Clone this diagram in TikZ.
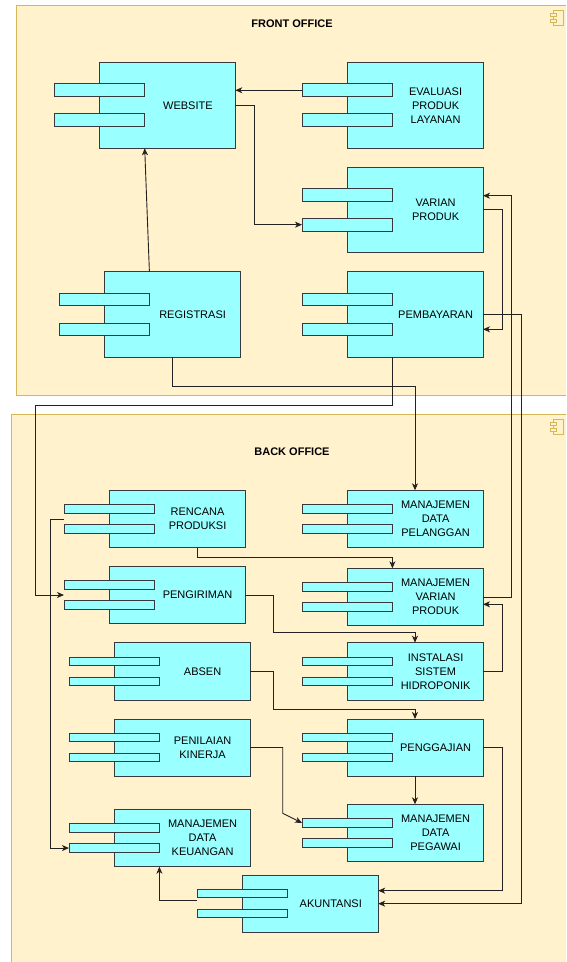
\documentclass[tikz,border=0pt]{standalone}
\usepackage{fontspec}
\setmainfont{Liberation Sans}
\usetikzlibrary{arrows.meta}
\definecolor{cont}{HTML}{FFF2CC}
\definecolor{contline}{HTML}{D6B656}
\definecolor{compfill}{HTML}{99FFFF}
\definecolor{compline}{HTML}{36393D}
\definecolor{wire}{HTML}{222222}
\tikzset{
 container/.style={fill=cont, draw=contline, line width=1pt},
 compbox/.style={draw=compline, fill=compfill, line width=1pt, minimum width=136pt, inner sep=0pt, outer sep=0pt, anchor=north west},
 portbox/.style={draw=compline, fill=compfill, line width=1pt, minimum width=90.6pt, inner sep=0pt, outer sep=0pt, anchor=north west},
 comptext/.style={font=\fontsize{11}{14}\selectfont, align=center, inner sep=0pt},
 titletext/.style={font=\fontsize{11}{14}\selectfont\bfseries, inner sep=0pt},
 wirearrow/.style={draw=wire, line width=0.9pt, -{Stealth[length=7pt,width=6pt,inset=2pt]}},
 iconpart/.style={draw=contline, fill=cont, line width=0.8pt},
}
\newcommand\mycomp[5]{%
 \node[compbox, minimum height={#4pt}] (#1) at (#2,#3) {};
 \node[portbox, minimum height={0.15*#4pt}] (#1p1) at ({#2-45},{#3+0.25*#4}) {};
 \node[portbox, minimum height={0.15*#4pt}] (#1p2) at ({#2-45},{#3+0.6*#4}) {};
 \node[comptext] (#1t) at ({#2+88.6},{#3+0.5*#4}) {#5};
}
\begin{document}
\begin{tikzpicture}[x=1pt,y=-1pt]
\useasboundingbox (0,0) rectangle (566,962);
\clip (0,0) rectangle (566,962);
% containers
\draw[container] (16.2,5.4) rectangle (575,395);
\draw[container] (11.6,414.3) rectangle (575,975);
\node[titletext] (fronttitle) at (292,24) {FRONT OFFICE};
\node[titletext] (backtitle) at (292,451.7) {BACK OFFICE};
\foreach \yy in {10,419} {
 \draw[iconpart] (553,\yy) rectangle (563,{\yy+15});
 \draw[iconpart] (550,{\yy+3}) rectangle (556,{\yy+6});
 \draw[iconpart] (550,{\yy+9}) rectangle (556,{\yy+12});
}
% components
\mycomp{web}{99.3}{62.3}{86}{WEBSITE}
\mycomp{eval}{347}{62.3}{86}{EVALUASI\\PRODUK\\LAYANAN}
\mycomp{var}{347}{167.3}{85}{VARIAN\\PRODUK}
\mycomp{reg}{104}{271.7}{85.6}{REGISTRASI}
\mycomp{pem}{347}{271.7}{85.6}{PEMBAYARAN}
\mycomp{ren}{109}{490.3}{57.4}{RENCANA\\PRODUKSI}
\mycomp{mdp}{347}{490.3}{57.4}{MANAJEMEN\\DATA\\PELANGGAN}
\mycomp{pgr}{109}{566.7}{56.6}{PENGIRIMAN}
\mycomp{mvp}{347}{568.3}{57.4}{MANAJEMEN\\VARIAN\\PRODUK}
\mycomp{abs}{114}{642.7}{57.3}{ABSEN}
\mycomp{ins}{347}{642.7}{57.3}{INSTALASI\\SISTEM\\HIDROPONIK}
\mycomp{pen}{114}{719}{57}{PENILAIAN\\KINERJA}
\mycomp{gaj}{347}{719}{57}{PENGGAJIAN}
\mycomp{mdk}{114}{809.3}{57.4}{MANAJEMEN\\DATA\\KEUANGAN}
\mycomp{peg}{347}{804.3}{57.4}{MANAJEMEN\\DATA\\PEGAWAI}
\mycomp{aku}{242.2}{875}{57.3}{AKUNTANSI}
% connectors
\coordinate (k5) at (35,405);
\coordinate (k11) at (273.3,632.7);
\coordinate (k13) at (273.3,709.3);
\coordinate (k14) at (282.7,813.3);
\draw[wirearrow] (evalp1.west) -- (evalp1.west -| web.east);
\draw[wirearrow] (web.east) -- ++(19.1,0) |- (varp2.west);
\draw[wirearrow] ([xshift=-22.6pt]reg.north) -- ([xshift=-22.6pt]web.south);
\draw[wirearrow] (reg.south) -- ++(0,28.7) -| (mdp.north);
\draw[wirearrow] ([xshift=-22.6pt]pem.south) |- (k5) |- (pgrp1.west |- pgr.west);
\draw[wirearrow] (pem.east) -- ++(38.3,0) |- (aku.east);
\draw[wirearrow] (var.east) -- ++(19.1,0) |- ([yshift=-14.8pt]pem.east);
\draw[wirearrow] (mvp.east) -- ++(28.9,0) |- ([yshift=14.1pt]var.east);
\draw[wirearrow] ([xshift=20pt]ren.south) -- ++(0,9.6) -| ([xshift=-22.6pt]mvp.north);
\draw[wirearrow] (renp1.west |- ren.west) -- ++(-14,0) |- (mdkp2.west);
\draw[wirearrow] (pgr.east) -| (k11) -| (ins.north);
\draw[wirearrow] (ins.east) -- ++(19.1,0) |- ([yshift=-7.3pt]mvp.east);
\draw[wirearrow] (abs.east) -| (k13) -| (gaj.north);
\draw[wirearrow] (pen.east) -| (k14) -- (pegp1.west);
\draw[wirearrow] (gaj.east) -- ++(19.1,0) |- ([yshift=13pt]aku.east);
\draw[wirearrow] (gaj.south) -- (peg.north);
\draw[wirearrow] ([yshift=-2.1pt]akup1.south west) -| ([xshift=-22.6pt]mdk.south);
\end{tikzpicture}
\end{document}
